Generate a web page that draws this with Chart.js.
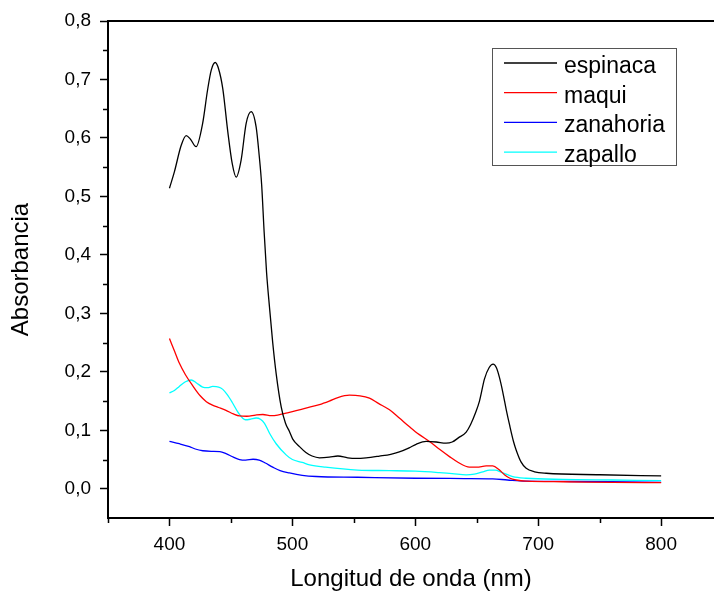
<!DOCTYPE html>
<html>
<head>
<meta charset="utf-8">
<script src="https://cdn.jsdelivr.net/npm/chart.js@4.4.1/dist/chart.umd.min.js"></script>
<style>
  html, body { margin: 0; padding: 0; background: #fff; }
  #wrap { width: 714px; height: 591px; }
</style>
</head>
<body>
<div id="wrap"><canvas id="grafico" width="714" height="591"></canvas></div>
<script>
// espectros UV-Vis
var espinacaNm = [400, 404, 409.5, 413.6, 417, 421.7, 427, 431, 434, 437.2, 440, 443.4, 447.5, 451, 454.3, 458.3, 462.4, 466.5, 470.5, 473, 475, 477, 479, 481.4, 484, 486.8, 490.9, 494.4, 497.6, 500.3, 505.8, 511, 516, 522, 530, 537, 545, 552, 560, 570.8, 580, 587, 595, 600.7, 608.8, 617, 625, 630, 635, 641.4, 645, 649, 652.2, 656.3, 660, 663.3, 666, 668.5, 671.2, 674, 676.6, 680, 682.1, 686, 690.2, 697, 706.5, 750, 800];
var espinacaAbs = [0.514, 0.542, 0.587, 0.604, 0.598, 0.585, 0.625, 0.682, 0.716, 0.729, 0.718, 0.684, 0.610, 0.557, 0.533, 0.562, 0.625, 0.645, 0.619, 0.570, 0.520, 0.440, 0.370, 0.310, 0.250, 0.197, 0.140, 0.112, 0.098, 0.085, 0.072, 0.062, 0.056, 0.053, 0.054, 0.056, 0.053, 0.052, 0.053, 0.056, 0.059, 0.063, 0.070, 0.076, 0.081, 0.080, 0.078, 0.080, 0.087, 0.097, 0.110, 0.130, 0.150, 0.188, 0.207, 0.213, 0.207, 0.190, 0.165, 0.135, 0.110, 0.080, 0.066, 0.046, 0.035, 0.029, 0.0265, 0.024, 0.022];

var maquiNm = [400, 404, 408, 413, 419, 425, 430, 435, 440, 446, 452, 457, 463, 470, 476, 483, 488, 494, 500, 511, 522, 530, 537, 546.4, 555, 562.7, 570, 579, 587, 595.3, 603, 611.5, 620, 627.8, 635, 644, 650, 657.7, 663, 668, 672.5, 677, 682, 690, 720, 760, 800];
var maquiAbs = [0.257, 0.236, 0.215, 0.195, 0.176, 0.159, 0.149, 0.143, 0.139, 0.134, 0.128, 0.1245, 0.124, 0.126, 0.127, 0.125, 0.126, 0.129, 0.132, 0.138, 0.144, 0.150, 0.156, 0.160, 0.159, 0.155, 0.146, 0.135, 0.121, 0.106, 0.093, 0.081, 0.067, 0.055, 0.045, 0.037, 0.037, 0.039, 0.039, 0.033, 0.024, 0.018, 0.015, 0.013, 0.012, 0.011, 0.0105];

var zanahoriaNm = [400, 408, 416.3, 421, 427.1, 434, 441, 446, 452, 457, 462, 468, 473, 478, 484, 490, 497.6, 508, 519.3, 553, 600, 640, 663, 675, 690, 720, 760, 800];
var zanahoriaAbs = [0.081, 0.077, 0.072, 0.068, 0.065, 0.064, 0.0635, 0.060, 0.054, 0.050, 0.049, 0.0505, 0.049, 0.044, 0.037, 0.031, 0.027, 0.023, 0.021, 0.0197, 0.018, 0.0175, 0.017, 0.015, 0.013, 0.0125, 0.012, 0.011];

var zapalloNm = [400, 404, 408, 413, 417.7, 422, 427, 431, 435.2, 440, 443.4, 447, 451, 456, 461.8, 466, 470.5, 474, 477.3, 481.4, 486.8, 494.9, 500, 508, 514, 527, 553, 579, 600, 619.7, 630, 641.4, 648, 655, 660.3, 665, 670, 675, 679.3, 690, 720, 760, 800];
var zapalloAbs = [0.164, 0.168, 0.175, 0.183, 0.186, 0.181, 0.174, 0.173, 0.175, 0.174, 0.170, 0.161, 0.148, 0.130, 0.118, 0.119, 0.121, 0.119, 0.112, 0.095, 0.077, 0.058, 0.050, 0.045, 0.041, 0.037, 0.032, 0.031, 0.030, 0.0276, 0.026, 0.0236, 0.025, 0.029, 0.032, 0.032, 0.028, 0.024, 0.0207, 0.018, 0.016, 0.015, 0.014];

var xMajor = [400, 500, 600, 700, 800];
var xMinor = [350, 450, 550, 650, 750];
var yMajor = [0, 0.1, 0.2, 0.3, 0.4, 0.5, 0.6, 0.7, 0.8];
var yMinor = [0.05, 0.15, 0.25, 0.35, 0.45, 0.55, 0.65, 0.75];

function pares(nm, abs) {
  var out = [];
  for (var i = 0; i < nm.length; i++) out.push({ x: nm[i], y: abs[i] });
  return out;
}

function serie(label, nm, abs, color) {
  return {
    label: label,
    data: pares(nm, abs),
    borderColor: color,
    borderWidth: 1.3,
    pointRadius: 0,
    fill: false,
    cubicInterpolationMode: 'monotone'
  };
}

function todosTicks(major, minor) {
  return major.concat(minor).sort(function (a, b) { return a - b; })
    .map(function (v) { return { value: v }; });
}

Chart.defaults.font.family = "'Liberation Sans', Arial, sans-serif";
Chart.defaults.color = '#000';

// ticks menores, borde superior y leyenda en recuadro
var extras = {
  id: 'extras',
  afterDraw: function (chart) {
    var ctx = chart.ctx, area = chart.chartArea;
    var xs = chart.scales.x, ys = chart.scales.y;
    ctx.save();
    ctx.strokeStyle = '#000';
    ctx.lineWidth = 1.5;
    ctx.beginPath();
    xMinor.forEach(function (v) {
      var px = Math.round(xs.getPixelForValue(v)) + 0.5;
      ctx.moveTo(px, area.bottom);
      ctx.lineTo(px, area.bottom + 5);
    });
    yMinor.forEach(function (v) {
      var py = Math.round(ys.getPixelForValue(v)) + 0.5;
      ctx.moveTo(area.left - 5, py);
      ctx.lineTo(area.left, py);
    });
    ctx.stroke();

    ctx.lineWidth = 2;
    ctx.beginPath();
    ctx.moveTo(area.left, area.top);
    ctx.lineTo(area.right, area.top);
    ctx.stroke();

    // leyenda
    var bx = area.left + 384, by = area.top + 27, bw = 184, bh = 117;
    ctx.fillStyle = '#fff';
    ctx.fillRect(bx, by, bw, bh);
    ctx.strokeStyle = '#555';
    ctx.lineWidth = 1;
    ctx.strokeRect(bx + 0.5, by + 0.5, bw, bh);
    ctx.font = "23px 'Liberation Sans', Arial, sans-serif";
    ctx.textBaseline = 'alphabetic';
    ctx.textAlign = 'left';
    chart.data.datasets.forEach(function (ds, i) {
      var cy = by + 15 + i * 29.7;
      ctx.strokeStyle = ds.borderColor;
      ctx.lineWidth = 1.3;
      ctx.beginPath();
      ctx.moveTo(bx + 12, cy);
      ctx.lineTo(bx + 65, cy);
      ctx.stroke();
      ctx.fillStyle = '#000';
      ctx.fillText(ds.label, bx + 72, cy + 10);
    });
    ctx.restore();
  }
};

new Chart(document.getElementById('grafico'), {
  type: 'line',
  data: {
    datasets: [
      serie('espinaca', espinacaNm, espinacaAbs, '#000000'),
      serie('maqui', maquiNm, maquiAbs, '#ff0000'),
      serie('zanahoria', zanahoriaNm, zanahoriaAbs, '#0000ff'),
      serie('zapallo', zapalloNm, zapalloAbs, '#00ffff')
    ]
  },
  options: {
    responsive: false,
    animation: false,
    layout: { padding: { left: 0, right: 0, top: 21, bottom: 0 } },
    plugins: { legend: { display: false }, tooltip: { enabled: false } },
    scales: {
      x: {
        type: 'linear',
        min: 350,
        max: 843,
        afterBuildTicks: function (s) { s.ticks = todosTicks(xMajor, xMinor); },
        afterFit: function (s) { s.height = 73; },
        ticks: {
          autoSkip: false,
          maxRotation: 0,
          padding: 7,
          font: { size: 19 },
          callback: function (v) { return xMajor.indexOf(v) >= 0 ? String(v) : ''; }
        },
        grid: {
          drawOnChartArea: false,
          tickLength: 8,
          tickWidth: 1.5,
          tickColor: function (c) { return c.tick && xMajor.indexOf(c.tick.value) >= 0 ? '#000' : 'rgba(0,0,0,0)'; }
        },
        border: { display: true, color: '#000', width: 2 },
        title: {
          display: true,
          text: 'Longitud de onda (nm)',
          font: { size: 24, lineHeight: 1 },
          padding: 0
        }
      },
      y: {
        type: 'linear',
        min: -0.05,
        max: 0.8,
        afterBuildTicks: function (s) { s.ticks = todosTicks(yMajor, yMinor); },
        afterFit: function (s) { s.width = 108; },
        ticks: {
          autoSkip: false,
          padding: 9,
          font: { size: 19 },
          callback: function (v) { return yMajor.indexOf(v) >= 0 ? v.toFixed(1).replace('.', ',') : ''; }
        },
        grid: {
          drawOnChartArea: false,
          tickLength: 8,
          tickWidth: 1.5,
          tickColor: function (c) { return c.tick && yMajor.indexOf(c.tick.value) >= 0 ? '#000' : 'rgba(0,0,0,0)'; }
        },
        border: { display: true, color: '#000', width: 2 },
        title: {
          display: true,
          text: 'Absorbancia',
          font: { size: 24, lineHeight: 1.2 },
          padding: { top: 7, bottom: 0 }
        }
      }
    }
  },
  plugins: [extras]
});
</script>
</body>
</html>
